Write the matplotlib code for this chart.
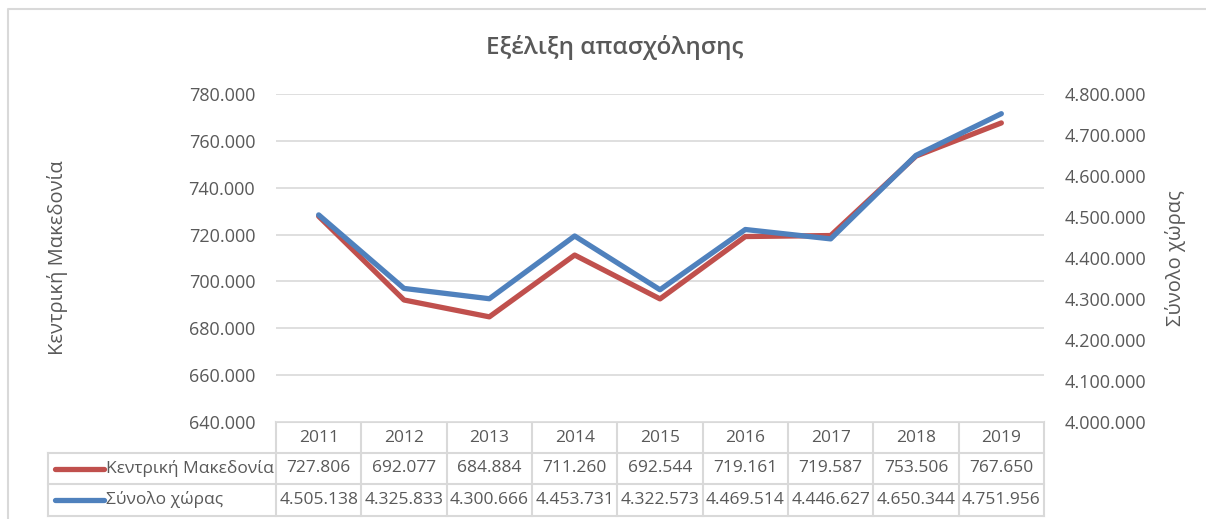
import matplotlib
matplotlib.use("Agg")
import matplotlib.pyplot as plt
from matplotlib.ticker import FuncFormatter, MultipleLocator

plt.rcParams['font.family'] = ['Open Sans', 'DejaVu Sans']

years = ["2011", "2012", "2013", "2014", "2015", "2016", "2017", "2018", "2019"]
kentriki = [727806, 692077, 684884, 711260, 692544, 719161, 719587, 753506, 767650]
synolo = [4505138, 4325833, 4300666, 4453731, 4322573, 4469514, 4446627, 4650344, 4751956]
series_names = ["Κεντρική Μακεδονία", "Σύνολο χώρας"]

W, H = 1206, 519
TXT = '#595959'
GRID = '#d9d9d9'
RED = '#c0504d'
BLUE = '#4f81bd'


def dots(v, pos=None):
    return f"{int(round(v)):,}".replace(",", ".")


fig = plt.figure(figsize=(W / 100, H / 100), dpi=100)

# plot area in pixel terms
left, right, top, bottom = 276, 1044, 94, 422
ax = fig.add_axes([left / W, (H - bottom) / H, (right - left) / W, (bottom - top) / H])
ax2 = ax.twinx()

x = list(range(len(years)))
ax.plot(x, kentriki, color=RED, lw=3.8, solid_capstyle='round', solid_joinstyle='round', zorder=3)
ax2.plot(x, synolo, color=BLUE, lw=3.8, solid_capstyle='round', solid_joinstyle='round', zorder=3)

ax.set_xlim(-0.5, len(years) - 0.5)
ax.set_ylim(640000, 780000)
ax2.set_ylim(4000000, 4800000)
ax.yaxis.set_major_locator(MultipleLocator(20000))
ax2.yaxis.set_major_locator(MultipleLocator(100000))
ax.yaxis.set_major_formatter(FuncFormatter(dots))
ax2.yaxis.set_major_formatter(FuncFormatter(dots))
ax.grid(axis='y', color=GRID, lw=1.2)
ax.set_xticks([])
for a in (ax, ax2):
    for s in a.spines.values():
        s.set_visible(False)
    a.tick_params(axis='y', length=0, labelsize=13, labelcolor=TXT, pad=15)

ax.set_ylabel(series_names[0], fontsize=14.5, color=TXT, va='center')
ax.yaxis.set_label_coords((57 - left) / (right - left), 0.5)
ax2.set_ylabel(series_names[1], fontsize=14.5, color=TXT, rotation=90, va='center')
ax2.yaxis.set_label_coords((1176 - left) / (right - left), 0.5)

fig.text(615 / W, 1 - 47 / H, "Εξέλιξη απασχόλησης", ha='center', va='center',
         fontsize=17.5, fontweight='semibold', color=TXT)

# overlay in pixel coordinates for table and border
ov = fig.add_axes([0, 0, 1, 1], zorder=-5)
ov.set_xlim(0, W)
ov.set_ylim(H, 0)
ov.axis('off')

ov.plot([8, 8, W + 5], [H + 5, 9, 9], color=GRID, lw=1.5)

col_w = (right - left) / len(years)
rows = [422, 453, 484, 516]
lab_left = 48
# horizontal lines
ov.plot([left, right], [rows[0], rows[0]], color=GRID, lw=1.5)
for ry in rows[1:]:
    ov.plot([lab_left, right], [ry, ry], color=GRID, lw=1.5)
# vertical lines
for i in range(len(years) + 1):
    xx = left + i * col_w
    ov.plot([xx, xx], [rows[0], rows[3]], color=GRID, lw=1.5)
ov.plot([lab_left, lab_left], [rows[1], rows[3]], color=GRID, lw=1.5)

for i, yr in enumerate(years):
    cx = left + (i + 0.5) * col_w
    ov.text(cx, (rows[0] + rows[1]) / 2, yr, ha='center', va='center', fontsize=12.5, color=TXT)
    ov.text(cx, (rows[1] + rows[2]) / 2, dots(kentriki[i]), ha='center', va='center', fontsize=12.5, color=TXT)
    ov.text(cx, (rows[2] + rows[3]) / 2, dots(synolo[i]), ha='center', va='center', fontsize=12.5, color=TXT)

for j, (name, col) in enumerate(zip(series_names, [RED, BLUE])):
    cy = (rows[j + 1] + rows[j + 2]) / 2
    ov.plot([55, 104], [cy, cy], color=col, lw=3.8, solid_capstyle='round')
    ov.text(106, cy, name, ha='left', va='center', fontsize=12.5, color=TXT)

fig.savefig("out.png", dpi=100, facecolor='white')
